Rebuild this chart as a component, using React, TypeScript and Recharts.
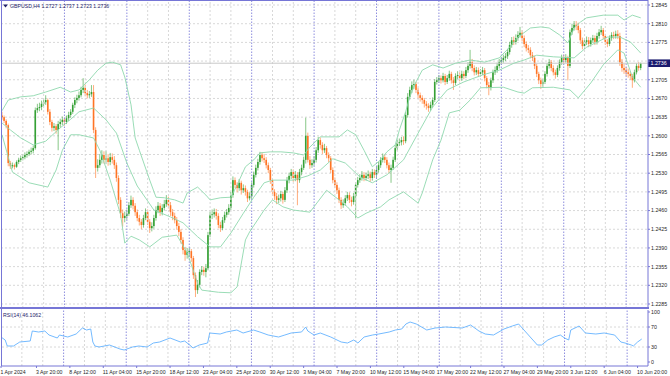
import { ComposedChart, Bar, Line, XAxis, YAxis, ReferenceLine, CartesianGrid } from "recharts";

// ─── data ─────────────────────────────────────────────────────────────────────
// GBPUSD H4, one array per trading week (30 bars, Mon 00:00 – Fri 20:00).
// Each bar is [open, high, low, close] in pips above 1.2000.

const wk01Apr = [
  [638, 645, 630, 635], [635, 638, 624, 628], [628, 631, 614, 620], [620, 623, 543, 549], [549, 553, 538, 543], [543, 550, 539, 545],
  [545, 548, 537, 542], [542, 554, 540, 551], [551, 559, 547, 555], [555, 563, 551, 558], [558, 566, 554, 560], [560, 569, 556, 564],
  [564, 571, 559, 566], [566, 574, 562, 570], [570, 578, 565, 572], [572, 582, 567, 577], [577, 653, 574, 648], [648, 660, 643, 652],
  [652, 662, 646, 654], [654, 666, 648, 660], [660, 670, 655, 663], [663, 676, 658, 667], [667, 670, 640, 645], [645, 650, 620, 626],
  [626, 630, 608, 615], [615, 624, 609, 618], [618, 622, 604, 611], [611, 628, 573, 622], [622, 632, 615, 626], [626, 636, 620, 630],
];
const wk08Apr = [
  [630, 634, 619, 626], [626, 638, 622, 633], [633, 645, 628, 639], [639, 650, 634, 645], [645, 662, 641, 658], [658, 672, 652, 667],
  [667, 677, 661, 671], [671, 683, 666, 676], [676, 692, 672, 686], [686, 708, 680, 690], [690, 696, 674, 680], [680, 686, 670, 676],
  [676, 684, 671, 678], [678, 695, 673, 682], [682, 695, 605, 611], [611, 616, 521, 540], [540, 556, 533, 545], [545, 566, 540, 555],
  [555, 573, 548, 564], [564, 571, 548, 555], [555, 572, 547, 558], [558, 566, 544, 551], [551, 568, 545, 560], [560, 567, 548, 555],
  [555, 562, 538, 545], [545, 550, 514, 521], [521, 526, 472, 480], [480, 485, 446, 455], [455, 462, 430, 446], [446, 458, 438, 450],
];
const wk15Apr = [
  [450, 462, 443, 454], [454, 476, 450, 470], [470, 488, 465, 480], [480, 485, 462, 469], [469, 474, 450, 457], [457, 462, 440, 446],
  [446, 452, 432, 439], [439, 444, 425, 433], [433, 452, 428, 446], [446, 464, 442, 457], [457, 462, 433, 439], [439, 444, 418, 427],
  [427, 438, 421, 431], [431, 452, 426, 446], [446, 468, 441, 461], [461, 476, 455, 469], [469, 474, 450, 457], [457, 472, 451, 465],
  [465, 480, 460, 472], [472, 489, 467, 480], [480, 486, 464, 470], [470, 476, 450, 457], [457, 463, 442, 450], [450, 456, 436, 442],
  [442, 448, 424, 431], [431, 437, 412, 420], [420, 425, 398, 405], [405, 410, 378, 386], [386, 392, 366, 377], [377, 390, 370, 382],
];
const wk22Apr = [
  [382, 390, 374, 384], [384, 388, 364, 371], [371, 375, 332, 339], [339, 344, 298, 311], [311, 330, 304, 321], [321, 350, 316, 345],
  [345, 356, 339, 349], [349, 355, 338, 345], [345, 360, 335, 352], [352, 420, 348, 414], [414, 458, 410, 452], [452, 462, 444, 453],
  [453, 464, 447, 457], [457, 463, 443, 450], [450, 455, 427, 433], [433, 439, 420, 427], [427, 448, 423, 442], [442, 458, 437, 452],
  [452, 463, 447, 457], [457, 472, 452, 465], [465, 495, 461, 489], [489, 524, 484, 517], [517, 522, 502, 508], [508, 513, 494, 502],
  [502, 519, 497, 512], [512, 516, 490, 498], [498, 509, 493, 502], [502, 507, 488, 495], [495, 499, 476, 483], [483, 494, 479, 487],
];
const wk29Apr = [
  [487, 513, 482, 508], [508, 533, 503, 527], [527, 546, 522, 540], [540, 557, 535, 551], [551, 570, 546, 564], [564, 569, 552, 558],
  [558, 566, 549, 555], [555, 560, 539, 545], [545, 550, 530, 536], [536, 540, 510, 517], [517, 521, 489, 495], [495, 500, 480, 487],
  [487, 493, 472, 480], [480, 490, 474, 483], [483, 497, 477, 491], [491, 495, 473, 480], [480, 504, 476, 498], [498, 523, 493, 517],
  [517, 531, 511, 525], [525, 538, 519, 532], [532, 537, 514, 521], [521, 534, 515, 527], [527, 532, 470, 517], [517, 538, 512, 532],
  [532, 546, 526, 540], [540, 561, 536, 555], [555, 634, 548, 600], [600, 606, 550, 555], [555, 562, 538, 545], [545, 556, 540, 549],
];
const wk06May = [
  [549, 562, 544, 555], [555, 579, 550, 573], [573, 598, 568, 592], [592, 597, 576, 583], [583, 588, 566, 573], [573, 585, 568, 577],
  [577, 581, 558, 564], [564, 569, 551, 558], [558, 562, 530, 536], [536, 541, 511, 517], [517, 522, 502, 508], [508, 513, 491, 498],
  [498, 503, 474, 480], [480, 485, 463, 470], [470, 481, 465, 474], [474, 489, 469, 483], [483, 495, 478, 489], [489, 494, 474, 480],
  [480, 486, 468, 476], [476, 493, 471, 487], [487, 513, 446, 508], [508, 523, 503, 517], [517, 528, 512, 521], [521, 534, 516, 527],
  [527, 532, 515, 521], [521, 531, 516, 525], [525, 535, 519, 528], [528, 533, 514, 521], [521, 538, 516, 532], [532, 537, 521, 527],
];
const wk13May = [
  [527, 542, 521, 536], [536, 551, 531, 545], [545, 560, 540, 555], [555, 567, 550, 560], [560, 565, 549, 555], [555, 560, 539, 545],
  [545, 550, 530, 536], [536, 546, 512, 540], [540, 561, 536, 555], [555, 583, 551, 577], [577, 593, 572, 587], [587, 595, 581, 588],
  [588, 598, 582, 592], [592, 599, 583, 590], [590, 645, 586, 639], [639, 680, 634, 673], [673, 692, 668, 686], [686, 702, 680, 695],
  [695, 705, 688, 697], [697, 701, 680, 686], [686, 690, 670, 676], [676, 681, 664, 671], [671, 676, 660, 667], [667, 671, 653, 660],
  [660, 665, 649, 656], [656, 661, 645, 652], [652, 664, 647, 658], [658, 672, 653, 667], [667, 706, 663, 701], [701, 710, 696, 704],
];
const wk20May = [
  [704, 714, 699, 708], [708, 713, 698, 704], [704, 718, 700, 712], [712, 716, 695, 701], [701, 714, 697, 708], [708, 722, 703, 716],
  [716, 720, 698, 704], [704, 710, 686, 699], [699, 717, 695, 712], [712, 721, 706, 714], [714, 719, 702, 708], [708, 722, 703, 716],
  [716, 721, 706, 712], [712, 729, 708, 723], [723, 738, 718, 731], [731, 761, 726, 738], [738, 744, 721, 727], [727, 732, 713, 719],
  [719, 729, 714, 723], [723, 728, 710, 716], [716, 725, 711, 719], [719, 729, 714, 723], [723, 727, 702, 708], [708, 712, 689, 695],
  [695, 701, 676, 690], [690, 709, 685, 704], [704, 724, 699, 719], [719, 730, 714, 723], [723, 737, 718, 731], [731, 744, 726, 738],
];
const wk27May = [
  [738, 748, 733, 742], [742, 752, 737, 746], [746, 755, 740, 749], [749, 763, 744, 757], [757, 776, 752, 770], [770, 785, 765, 779],
  [779, 786, 770, 776], [776, 790, 771, 783], [783, 796, 778, 789], [789, 804, 784, 793], [793, 798, 777, 783], [783, 788, 766, 772],
  [772, 777, 758, 764], [764, 770, 755, 761], [761, 766, 745, 751], [751, 757, 740, 746], [746, 750, 725, 731], [731, 735, 710, 716],
  [716, 720, 697, 704], [704, 709, 688, 697], [697, 707, 690, 701], [701, 721, 697, 716], [716, 736, 711, 731], [731, 744, 726, 738],
  [738, 742, 721, 727], [727, 732, 713, 719], [719, 724, 707, 714], [714, 732, 710, 727], [727, 743, 722, 738], [738, 752, 733, 746],
];
const wk03Jun = [
  [746, 752, 735, 742], [742, 753, 737, 746], [746, 750, 704, 731], [731, 799, 727, 794], [794, 810, 789, 802], [802, 815, 797, 808],
  [808, 815, 798, 806], [806, 812, 792, 798], [798, 802, 772, 779], [779, 784, 762, 768], [768, 782, 763, 776], [776, 786, 770, 779],
  [779, 785, 766, 772], [772, 784, 767, 779], [779, 789, 774, 783], [783, 788, 770, 776], [776, 793, 771, 787], [787, 800, 782, 794],
  [794, 806, 789, 798], [798, 802, 781, 787], [787, 791, 770, 776], [776, 781, 766, 772], [772, 788, 768, 783], [783, 794, 778, 789],
  [789, 795, 781, 787], [787, 797, 782, 791], [791, 798, 781, 787], [787, 793, 731, 738], [738, 744, 720, 727], [727, 735, 716, 723],
];
const wk10Jun = [
  [723, 729, 712, 719], [719, 726, 709, 716], [716, 721, 705, 712], [712, 716, 690, 704], [704, 724, 700, 719], [719, 736, 715, 731],
  [731, 738, 722, 727], [727, 737, 723, 736],
];

// Bollinger Bands (20, 2): [bar index, pips above 1.2000]
const bbUpper = [
  [0, 647], [3, 667], [9, 673], [15, 675], [21, 682], [28, 691], [33, 682], [37, 686], [42, 705], [46, 723], [50, 736], [53, 738],
  [57, 733], [59, 710], [62, 658], [64, 596], [66, 573], [71, 517], [74, 485], [78, 484], [83, 480], [87, 474], [89, 493], [94, 504],
  [98, 489], [100, 480], [105, 484], [110, 485], [113, 508], [117, 542], [121, 555], [124, 568], [129, 570], [134, 570], [140, 568],
  [145, 564], [148, 579], [153, 598], [158, 598], [162, 598], [166, 611], [170, 602], [174, 573], [178, 542], [182, 555], [185, 570],
  [189, 583], [191, 611], [194, 645], [196, 673], [199, 701], [202, 723], [207, 733], [212, 727], [218, 736], [225, 742], [232, 738],
  [239, 746], [244, 766], [248, 785], [254, 802], [259, 804], [263, 802], [268, 789], [272, 774], [275, 802], [278, 813], [281, 821],
  [289, 826], [296, 826], [299, 817], [303, 826], [307, 821],
];
const bbMiddle = [
  [0, 624], [4, 611], [9, 596], [15, 583], [21, 590], [28, 615], [33, 631], [37, 645], [44, 652], [50, 630], [55, 605], [60, 549],
  [65, 506], [70, 478], [73, 461], [81, 448], [87, 437], [94, 411], [100, 392], [105, 392], [110, 418], [116, 455], [121, 485],
  [126, 512], [130, 517], [140, 517], [147, 525], [153, 536], [159, 557], [165, 549], [172, 523], [178, 512], [185, 527], [193, 555],
  [200, 605], [207, 654], [214, 686], [222, 701], [231, 714], [239, 723], [246, 736], [251, 742], [257, 751], [265, 748], [275, 746],
  [281, 766], [291, 785], [297, 785], [302, 776], [307, 755],
];
const bbLower = [
  [0, 602], [5, 532], [13, 512], [22, 504], [26, 536], [29, 573], [33, 602], [37, 602], [44, 596], [47, 573], [52, 517], [57, 452],
  [59, 399], [62, 412], [66, 405], [71, 392], [77, 410], [84, 414], [89, 381], [94, 324], [96, 311], [104, 307], [110, 306],
  [113, 317], [117, 405], [119, 420], [126, 461], [130, 480], [135, 467], [140, 461], [148, 457], [156, 498], [162, 480], [166, 467],
  [171, 446], [175, 455], [182, 467], [186, 480], [193, 495], [200, 474], [202, 493], [207, 555], [211, 592], [215, 643], [220, 648],
  [225, 667], [230, 690], [241, 691], [248, 682], [251, 680], [255, 690], [265, 691], [273, 686], [277, 671], [283, 699], [289, 733],
  [296, 761], [299, 755], [303, 710], [307, 691],
];

// RSI(14): [bar index, value]
const rsi14 = [
  [0, 50], [2, 44], [3, 32], [6, 32], [9, 40], [14, 42], [15, 62], [18, 60], [21, 62], [23, 54], [27, 48], [28, 54], [32, 50],
  [36, 56], [39, 68], [41, 64], [43, 66], [44, 40], [45, 32], [47, 30], [52, 34], [57, 26], [59, 24], [63, 30], [66, 32], [70, 30],
  [73, 38], [76, 40], [81, 48], [86, 40], [88, 42], [91, 32], [92, 28], [95, 34], [99, 38], [100, 58], [105, 56], [108, 60],
  [113, 64], [116, 58], [121, 64], [124, 60], [128, 54], [133, 50], [136, 54], [139, 58], [144, 60], [146, 70], [147, 62], [150, 54],
  [153, 58], [158, 50], [163, 40], [166, 38], [169, 44], [171, 38], [174, 50], [178, 54], [181, 56], [186, 60], [189, 64], [192, 66],
  [194, 76], [196, 80], [199, 76], [204, 64], [208, 68], [213, 70], [221, 68], [225, 74], [229, 62], [232, 56], [236, 54], [241, 66],
  [245, 72], [248, 76], [251, 62], [254, 48], [257, 34], [259, 34], [262, 44], [265, 50], [268, 54], [270, 48], [272, 44], [273, 64],
  [277, 72], [280, 58], [285, 56], [289, 58], [294, 54], [297, 40], [299, 38], [302, 34], [303, 32], [305, 40], [307, 46],
];

const SYMBOL = "GBPUSD,H4";
const LAST_OHLC = ["1.2727", "1.2737", "1.2723", "1.2736"];
const LAST_PRICE = 1.2736;
const RSI_LAST = "46.1062";

const PRICE_TICKS = [
  1.2285, 1.232, 1.2355, 1.239, 1.2425, 1.246, 1.2495, 1.253, 1.2565, 1.26, 1.2635, 1.267, 1.2705, 1.274, 1.2775, 1.281, 1.2845,
];
const RSI_TICKS = [0, 30, 70, 100];
const TIME_BARS = [0, 17, 33, 49, 65, 81, 97, 113, 129, 145, 161, 177, 193, 209, 225, 241, 257, 273, 289, 305];
const TIME_LABELS = [
  "1 Apr 2024", "3 Apr 20:00", "8 Apr 12:00", "11 Apr 04:00", "15 Apr 20:00", "18 Apr 12:00", "23 Apr 04:00",
  "25 Apr 20:00", "30 Apr 12:00", "3 May 04:00", "7 May 20:00", "10 May 12:00", "15 May 04:00", "17 May 20:00",
  "22 May 12:00", "27 May 04:00", "29 May 20:00", "3 Jun 12:00", "6 Jun 04:00", "10 Jun 20:00",
];
const WEEK_STARTS = [30, 60, 90, 120, 150, 180, 210, 240, 270, 300];

// ─── styling ──────────────────────────────────────────────────────────────────

const W = 670;
const SLOTS = 311; // visible bar slots incl. right shift
const FONT = "'Liberation Sans', Arial, sans-serif";
const FRAME = "#7676d6";
const SEP = "#8e8ede";
const GRID = "#d8d8d8";
const BULL = "#35a035";
const BEAR = "#ff7424";
const BAND = "#8fd8ae";
const RSI_COL = "#64b2ff";
const TXT = "#262626";
const TITLE = "#22226a";
const BOX = "#1a1a6e";

// ─── table ────────────────────────────────────────────────────────────────────

const px = (v: number) => 1.2 + v / 10000;
const candles = [wk01Apr, wk08Apr, wk15Apr, wk22Apr, wk29Apr, wk06May, wk13May, wk20May, wk27May, wk03Jun, wk10Jun].flat();

const rows: any[] = Array.from({ length: SLOTS }, (_, i) => {
  const k = candles[i];
  if (!k) return { i };
  return { i, o: px(k[0]), h: px(k[1]), l: px(k[2]), c: px(k[3]), range: [px(k[2]), px(k[1])] };
});
bbUpper.forEach(([b, v]) => (rows[b].ub = px(v)));
bbMiddle.forEach(([b, v]) => (rows[b].mb = px(v)));
bbLower.forEach(([b, v]) => (rows[b].lb = px(v)));

const rsiRows: any[] = Array.from({ length: SLOTS }, (_, i) => ({ i }));
rsi14.forEach(([b, v]) => (rsiRows[b].rsi = v));

const GRID_BARS = Array.from({ length: 31 }, (_, k) => k * 10).filter((b) => b > 0 && b % 30 !== 0);

// ─── pieces ───────────────────────────────────────────────────────────────────

function Candle(props: any) {
  const { x, y, width, height, payload } = props;
  if (!payload || payload.o == null || !Number.isFinite(y)) return null;
  const { o, h, l, c } = payload;
  const top = Math.min(y, y + height);
  const k = Math.abs(height) / (h - l);
  const cx = x + width / 2;
  const bTop = top + (h - Math.max(o, c)) * k;
  const bBot = top + (h - Math.min(o, c)) * k;
  const col = c >= o ? BULL : BEAR;
  return (
    <g>
      <line x1={cx} x2={cx} y1={top} y2={top + Math.abs(height)} stroke={col} strokeWidth={0.7} strokeOpacity={0.85} />
      <rect x={cx - 0.8} y={bTop} width={1.6} height={Math.max(bBot - bTop, 0.8)} fill={col} />
    </g>
  );
}

function PriceTick({ x, y, payload }: any) {
  if (Math.abs(payload.value - LAST_PRICE) < 0.001) return null; // hidden under the price box
  return (
    <text x={x} y={y} dy={1.9} fontSize={5.3} fill={TXT} fontFamily={FONT}>
      {payload.value.toFixed(4)}
    </text>
  );
}

function RsiTick({ x, y, payload }: any) {
  return (
    <text x={x} y={y} dy={1.9} fontSize={5.3} fill={TXT} fontFamily={FONT}>
      {payload.value}
    </text>
  );
}

function TimeTick({ x, y, payload }: any) {
  const idx = TIME_BARS.indexOf(payload.value);
  return (
    <text x={x - 0.5} y={y} dy={4.2} fontSize={5.2} fill={TXT} fontFamily={FONT} textAnchor="start">
      {TIME_LABELS[idx]}
    </text>
  );
}

function PriceBox({ viewBox }: any) {
  if (!viewBox) return null;
  const x = viewBox.x + viewBox.width;
  return (
    <g>
      <rect x={x} y={viewBox.y - 3.8} width={22} height={7.6} fill={BOX} />
      <text x={x + 2.5} y={viewBox.y + 2} fontSize={5.3} fill="#ffffff" fontFamily={FONT}>
        {LAST_PRICE.toFixed(4)}
      </text>
    </g>
  );
}

function gridLines() {
  return [
    ...GRID_BARS.map((b) => <ReferenceLine key={`g${b}`} x={b} stroke={GRID} strokeDasharray="2 2" />),
    ...WEEK_STARTS.map((b) => <ReferenceLine key={`w${b}`} x={b} stroke={SEP} strokeDasharray="1.5 1.5" />),
  ];
}

// ─── main component ───────────────────────────────────────────────────────────

export default function App() {
  return (
    <div style={{ position: "absolute", left: 0, top: 0, width: W, height: 376, background: "#fff", fontFamily: FONT, overflow: "hidden" }}>
      {/* price panel */}
      <div style={{ position: "absolute", left: 0, top: 0 }}>
        <ComposedChart width={W} height={308} data={rows} margin={{ top: 0, right: 0, bottom: 0, left: 1 }} barCategoryGap={0} barGap={0}>
          <CartesianGrid vertical={false} stroke={GRID} strokeDasharray="2 2" />
          <XAxis dataKey="i" type="category" hide />
          <YAxis
            orientation="right"
            type="number"
            domain={[1.22775, 1.28544]}
            allowDataOverflow
            ticks={PRICE_TICKS}
            interval={0}
            width={22}
            axisLine={{ stroke: FRAME }}
            tickLine={{ stroke: FRAME }}
            tickSize={2}
            tickMargin={1}
            tick={<PriceTick />}
          />
          {gridLines()}
          <ReferenceLine y={LAST_PRICE} stroke="#c8c8c8" label={<PriceBox />} />
          <Line dataKey="ub" stroke={BAND} strokeWidth={0.9} dot={false} connectNulls isAnimationActive={false} />
          <Line dataKey="mb" stroke={BAND} strokeWidth={0.9} dot={false} connectNulls isAnimationActive={false} />
          <Line dataKey="lb" stroke={BAND} strokeWidth={0.9} dot={false} connectNulls isAnimationActive={false} />
          <Bar dataKey="range" shape={(p: any) => <Candle {...p} />} isAnimationActive={false} />
        </ComposedChart>
      </div>

      {/* RSI panel */}
      <div style={{ position: "absolute", left: 0, top: 309 }}>
        <ComposedChart width={W} height={67} data={rsiRows} margin={{ top: 1, right: 0, bottom: 0, left: 1 }}>
          <XAxis
            dataKey="i"
            type="category"
            ticks={TIME_BARS}
            interval={0}
            height={10}
            axisLine={{ stroke: FRAME }}
            tickLine={{ stroke: FRAME }}
            tickSize={2}
            tick={<TimeTick />}
          />
          <YAxis
            orientation="right"
            type="number"
            domain={[-8, 104]}
            allowDataOverflow
            ticks={RSI_TICKS}
            interval={0}
            width={22}
            axisLine={{ stroke: FRAME }}
            tickLine={{ stroke: FRAME }}
            tickSize={2}
            tickMargin={1}
            tick={<RsiTick />}
          />
          {gridLines()}
          <ReferenceLine y={70} stroke={GRID} strokeDasharray="2 2" />
          <ReferenceLine y={30} stroke={GRID} strokeDasharray="2 2" />
          <Line dataKey="rsi" stroke={RSI_COL} strokeWidth={0.9} dot={false} connectNulls isAnimationActive={false} />
        </ComposedChart>
      </div>

      {/* frame */}
      <div style={{ position: "absolute", left: 0, top: 0, width: 648, height: 1, background: FRAME }} />
      <div style={{ position: "absolute", left: 0.5, top: 0, width: 1, height: 366, background: FRAME }} />
      <div style={{ position: "absolute", left: 0, top: 307, width: 649, height: 2, background: FRAME }} />

      {/* titles */}
      <svg width={W} height={376} style={{ position: "absolute", left: 0, top: 0, pointerEvents: "none" }}>
        <polygon points="3,4.5 8,4.5 5.5,7.5" fill={TITLE} />
        <text x={10} y={7.8} fontSize={5.2} fill={TITLE} fontFamily={FONT}>
          {`${SYMBOL}  ${LAST_OHLC.join(" ")}`}
        </text>
        <text x={3} y={316.5} fontSize={5.2} fill={TITLE} fontFamily={FONT}>
          {`RSI(14) ${RSI_LAST}`}
        </text>
      </svg>
    </div>
  );
}
